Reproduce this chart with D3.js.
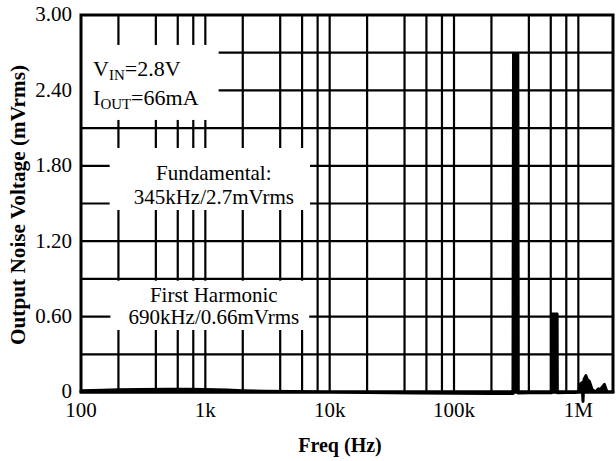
<!DOCTYPE html>
<html lang="en">
<head>
  <meta charset="UTF-8" />
  <title>Output Noise Spectrum</title>
  <script src="https://cdn.jsdelivr.net/npm/d3@7"></script>
  <style>
    body { margin: 0; background: #fff; }
    text { font-family: "Liberation Serif", "Times New Roman", serif; fill: #000; }
  </style>
</head>
<body>
<script>
  // spectrum (Hz, mVrms)
  const freqs = [100, 150, 200, 300, 500, 700, 1000, 1500, 2000, 3000, 5000, 10000, 20000, 50000, 100000, 200000,
                 298000, 301000, 326000, 329000, 400000, 500000, 609000, 612000, 675000, 678000, 800000, 950000,
                 1000000, 1040000, 1071000, 1090000, 1110000, 1150000, 1180000, 1226000, 1289000, 1370000, 1450000,
                 1503000, 1620000, 1700000, 1800000, 1900000];
  const noise = [0.01, 0.014, 0.017, 0.02, 0.022, 0.022, 0.02, 0.015, 0.01, 0.006, 0.003, 0.0, -0.004, -0.008, -0.01, -0.012,
                 -0.012, 2.69, 2.69, -0.008, -0.006, -0.005, -0.005, 0.62, 0.62, -0.005, -0.004, -0.003,
                 0.0, 0.065, 0.075, -0.075, 0.1, 0.13, 0.1, 0.085, 0.02, 0.0, 0.025,
                 0.02, 0.06, 0.0, 0.0, 0.0];

  const xTicks = [100, 1e3, 1e4, 1e5, 1e6];
  const xTickLabels = ["100", "1k", "10k", "100k", "1M"];
  const yTicks = [0, 0.6, 1.2, 1.8, 2.4, 3.0];
  const yTickLabels = ["0", "0.60", "1.20", "1.80", "2.40", "3.00"];
  const yGrid = [0.3, 0.6, 0.9, 1.2, 1.5, 1.8, 2.1, 2.4, 2.7];
  const xGrid = [200, 400, 600, 800, 1e3, 2e3, 4e3, 6e3, 8e3, 1e4, 2e4, 4e4, 6e4, 8e4, 1e5,
                 2e5, 4e5, 6e5, 8e5, 1e6];

  const width = 616, height = 461;
  const margin = { top: 15, right: 3, bottom: 69, left: 81 };

  const svg = d3.select("body").append("svg")
    .attr("width", width)
    .attr("height", height);

  const x = d3.scaleLog().domain([100, 1.9e6]).range([margin.left, width - margin.right]);
  const y = d3.scaleLinear().domain([0, 3]).range([height - margin.bottom, margin.top]);

  // grid
  const grid = svg.append("g").attr("stroke", "#000").attr("stroke-width", 2.2);
  grid.selectAll(".gx").data(xGrid).join("line")
    .attr("x1", d => x(d)).attr("x2", d => x(d))
    .attr("y1", y(3)).attr("y2", y(0));
  grid.selectAll(".gy").data(yGrid).join("line")
    .attr("x1", x.range()[0]).attr("x2", x.range()[1])
    .attr("y1", d => y(d)).attr("y2", d => y(d));

  // annotations, each on a white box that hides the grid
  const notes = [
    { f: 125, v: 2.515, anchor: "start", size: 22, pad: [12, 20, 11, 8],
      lines: [[["V", 0], ["IN", 1], ["=2.8V", 0]], [["I", 0], ["OUT", 1], ["=66mA", 0]]], lh: 29 },
    { f: 1170, v: 1.687, anchor: "middle", size: 21, pad: [24, 16, 13, 1],
      lines: [[["Fundamental:", 0]], [["345kHz/2.7mVrms", 0]]], lh: 24 },
    { f: 1170, v: 0.7186, anchor: "middle", size: 21, pad: [18, 10, 2, 1],
      lines: [[["First Harmonic", 0]], [["690kHz/0.66mVrms", 0]]], lh: 22.3 }
  ];

  notes.forEach(n => {
    const g = svg.append("g");
    const box = g.append("rect").attr("fill", "#fff");
    const t = g.append("text")
      .attr("x", x(n.f)).attr("y", y(n.v))
      .attr("text-anchor", n.anchor)
      .attr("font-size", n.size);
    n.lines.forEach((parts, i) => {
      parts.forEach(([s, sub], j) => {
        const ts = t.append("tspan").text(s);
        if (j === 0) ts.attr("x", x(n.f)).attr("dy", i === 0 ? 0 : n.lh);
        if (sub) ts.attr("font-size", n.size * 0.68).attr("dy", 4);
        else if (j > 0 && parts[j - 1][1]) ts.attr("dy", -4);
      });
    });
    const b = t.node().getBBox();
    box.attr("x", b.x - n.pad[0]).attr("y", b.y - n.pad[2])
      .attr("width", b.width + n.pad[0] + n.pad[1])
      .attr("height", b.height + n.pad[2] + n.pad[3]);
  });

  // spectrum
  const pts = freqs.map((f, i) => [f, noise[i]]);
  svg.append("path")
    .datum(pts)
    .attr("fill", "#000")
    .attr("stroke", "#000")
    .attr("stroke-width", 3)
    .attr("stroke-linejoin", "round")
    .attr("d", d3.area().x(d => x(d[0])).y0(y(0)).y1(d => y(d[1])));

  // frame
  svg.append("rect")
    .attr("x", margin.left).attr("y", margin.top)
    .attr("width", width - margin.left - margin.right)
    .attr("height", height - margin.top - margin.bottom)
    .attr("fill", "none").attr("stroke", "#000").attr("stroke-width", 3);

  // tick labels
  svg.append("g").selectAll("text").data(yTicks).join("text")
    .attr("x", margin.left - 9).attr("y", d => y(d))
    .attr("dy", "0.3em")
    .attr("text-anchor", "end").attr("font-size", 21)
    .text((d, i) => yTickLabels[i]);

  svg.append("g").selectAll("text").data(xTicks).join("text")
    .attr("x", d => x(d)).attr("y", y(0) + 25)
    .attr("text-anchor", "middle").attr("font-size", 21)
    .text((d, i) => xTickLabels[i]);

  // axis titles
  svg.append("text")
    .attr("x", 340).attr("y", 452)
    .attr("text-anchor", "middle").attr("font-size", 20).attr("font-weight", "bold")
    .text("Freq (Hz)");

  const yTitle = svg.append("text")
    .attr("transform", `translate(25,205) rotate(-90)`)
    .attr("text-anchor", "middle").attr("font-size", 20).attr("font-weight", "bold")
    .text("Output Noise Voltage (mVrms)");
  // the title runs about 280px in the source
  const len = yTitle.node().getComputedTextLength();
  yTitle.attr("font-size", 20 * 280 / len);
</script>
</body>
</html>
